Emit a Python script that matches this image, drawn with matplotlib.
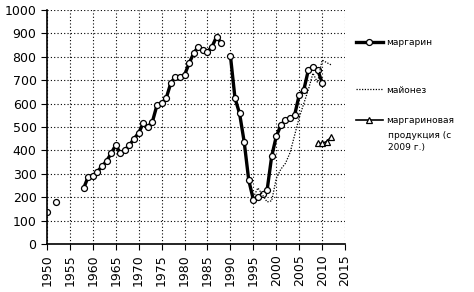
import numpy as np
import matplotlib
matplotlib.use("Agg")
import matplotlib.pyplot as plt
from matplotlib.legend import Legend

# margarine, annual (NaN = no data)
years_marg = list(range(1950, 2011))
marg = [135, np.nan, 180, np.nan, np.nan, np.nan, np.nan, np.nan,
        238, 288, 292, 310, 332, 355, 387, 423, 388, 402, 423, 450,
        475, 516, 501, 523, 594, 601, 623, 687, 715, 715,
        722, 772, 815, 843, 829, 822, 843, 886, 858, np.nan,
        805, 623, 558, 437, 273, 190, 200, 215, 230, 375,
        460, 508, 530, 537, 551, 637, 658, 744, 758, 745,
        690]

# mayonnaise
years_may = list(range(1995, 2013))
may = [200, 240, 210, 180, 185, 280, 320, 345, 390, 465,
       540, 600, 660, 730, 690, 786, 775, 765]

# margarine products (since 2009)
years_prod = [2009, 2010, 2011, 2012]
prod = [430, 430, 438, 458]

xticks = list(range(1950, 2016, 5))
yticks = list(range(0, 1001, 100))

fig = plt.figure(figsize=(4.74, 2.92), dpi=100)
ax = fig.add_axes([0.099, 0.164, 0.629, 0.802])

l1, = ax.plot(years_marg, marg, color="black", lw=2.4, marker="o", ms=4.3,
              mfc="white", mec="black", mew=0.9)
l2, = ax.plot(years_may, may, color="black", lw=0.9, ls=(0, (1, 1.2)))
l3, = ax.plot(years_prod, prod, color="black", lw=1.2, marker="^", ms=4.5,
              mfc="white", mec="black", mew=0.9)

ax.set_xlim(1950, 2015)
ax.set_ylim(0, 1000)
ax.set_xticks(xticks)
ax.set_yticks(yticks)
ax.set_xticklabels([str(x) for x in xticks], rotation=90)
ax.tick_params(axis="both", labelsize=9, colors="black", length=4, direction="out")
ax.grid(True, color="black", ls=(0, (1, 2)), lw=0.8)
ax.spines["top"].set_visible(False)
ax.spines["right"].set_visible(False)
ax.spines["left"].set_linewidth(1.2)
ax.spines["bottom"].set_linewidth(1.2)


def addLegend(ax, handle, label, ypos):
    leg = Legend(ax, [handle], [label], loc="center left", bbox_to_anchor=(1.035, ypos),
                 frameon=False, fontsize=6.5, handlelength=3.0, handletextpad=0.4,
                 borderaxespad=0, borderpad=0)
    ax.add_artist(leg)
    return leg


addLegend(ax, l1, "маргарин", 0.859)
addLegend(ax, l2, "майонез", 0.658)
addLegend(ax, l3, "маргариновая", 0.526)
ax.text(1.143, 0.485, "продукция (с\n2009 г.)", transform=ax.transAxes,
        fontsize=6.5, va="top", ha="left", linespacing=1.5)

fig.savefig("out.png", dpi=100)
